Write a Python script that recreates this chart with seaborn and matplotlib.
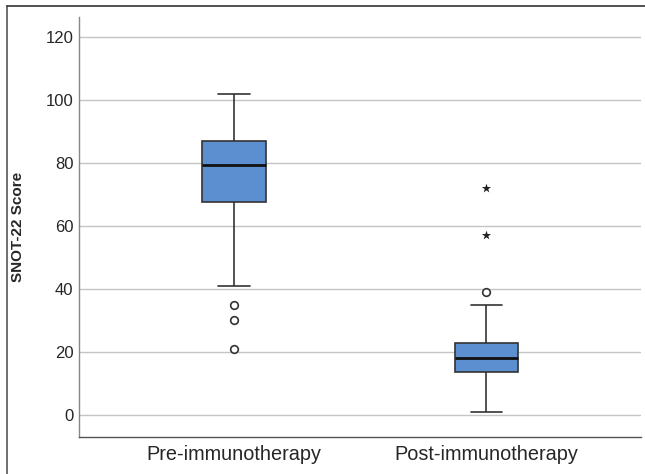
import pandas as pd
import numpy as np
import seaborn as sns
import matplotlib.pyplot as plt
from matplotlib.lines import Line2D

# scores (quartiles / whiskers / outliers match the picture)
groups = ["Pre-immunotherapy", "Post-immunotherapy"]
pre_scores = [21, 30, 35, 41, 67.5, 72, 75, 78, 79.5, 82, 84, 86, 87, 90, 94, 98, 102]
post_scores = [1, 6, 10, 12, 13.5, 15, 16, 17, 18, 19, 20, 22, 23, 35, 39, 57, 72]

# outliers (circles) and extremes (stars)
outlier_group = ["Pre-immunotherapy"] * 3 + ["Post-immunotherapy"]
outlier_score = [35, 30, 21, 39]
extreme_group = ["Post-immunotherapy"] * 2
extreme_score = [57, 72]

y_ticks = [0, 20, 40, 60, 80, 100, 120]

sns.set_style("white")
plt.rcParams['font.family'] = ['Liberation Sans', 'DejaVu Sans']

df = pd.DataFrame({
    "group": [groups[0]] * len(pre_scores) + [groups[1]] * len(post_scores),
    "score": pre_scores + post_scores,
})
out_df = pd.DataFrame({"group": outlier_group, "score": outlier_score})
ext_df = pd.DataFrame({"group": extreme_group, "score": extreme_score})

fig = plt.figure(figsize=(6.45, 4.74), dpi=100)
ax = fig.add_axes([0.1225, 0.0787, 0.8713, 0.8854])

for y in y_ticks:
    ax.axhline(y, color="#c4c4c4", lw=1.0, zorder=0)

sns.boxplot(data=df, x="group", y="score", order=groups, ax=ax,
            color="#5b8fcf", width=0.25, whis=1.5, showfliers=False,
            linecolor="#333333", linewidth=1.2, saturation=1,
            medianprops={"color": "#111111", "linewidth": 2.0})

sns.stripplot(data=out_df, x="group", y="score", order=groups, ax=ax,
              jitter=False, marker="o", size=5.5, color="white",
              edgecolor="#333333", linewidth=1.2, zorder=3)
sns.stripplot(data=ext_df, x="group", y="score", order=groups, ax=ax,
              jitter=False, marker="*", size=7, color="#222222",
              linewidth=0, zorder=3)

ax.set_xlim(-0.614, 1.612)
ax.set_ylim(-6.9, 126.35)
ax.set_yticks(y_ticks)
ax.set_xlabel("")
ax.set_ylabel("SNOT-22 Score", fontsize=11, fontweight="bold")
ax.yaxis.set_label_coords(-0.096, 0.5)
ax.tick_params(axis="y", labelsize=12, length=0, pad=4)
ax.tick_params(axis="x", labelsize=14.3, length=0, pad=6)

sns.despine(ax=ax)
ax.spines["left"].set_color("#888888")
ax.spines["bottom"].set_color("#555555")
ax.spines["left"].set_linewidth(1.0)
ax.spines["bottom"].set_linewidth(1.0)

# outer frame of the figure panel (left and top edges)
W, H = 645, 474
fig.add_artist(Line2D([7 / W, 7 / W], [0, 1 - 6 / H], color="#555555", lw=1.2))
fig.add_artist(Line2D([7 / W, 1], [1 - 6 / H, 1 - 6 / H], color="#333333", lw=1.2))

plt.savefig("out.png", dpi=100)
